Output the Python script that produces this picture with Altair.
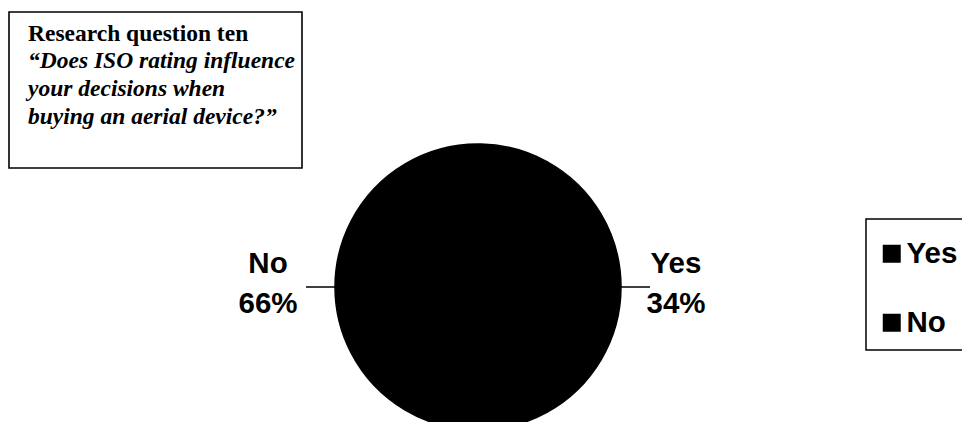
import math
import altair as alt
import pandas as pd

# ---- data ----
categories = ["Yes", "No"]
percent = [34, 66]
slice_order = [1, 2]
title_line = "Research question ten"
question_lines = [
    "\u201cDoes ISO rating influence",
    "your decisions when",
    "buying an aerial device?\u201d",
]

df = pd.DataFrame({"cat": categories, "value": percent, "idx": slice_order})
df["label"] = [f"{c}\n{v}%" for c, v in zip(categories, percent)]

# ---- layout (plot coords = page coords - 8) ----
cx, cy, R = 470, 279, 143
start = math.radians(28.8)
theta_scale = alt.Scale(range=[start, start + 2 * math.pi])
color_scale = alt.Scale(domain=categories, range=["#000000", "#000000"])

base = alt.Chart(df)

pie = base.mark_arc(radius=R, stroke="#000000", strokeWidth=1.5).encode(
    theta=alt.Theta("value:Q", stack=True, scale=theta_scale),
    order=alt.Order("idx:Q"),
    color=alt.Color(
        "cat:N",
        scale=color_scale,
        sort=categories,
        legend=alt.Legend(
            title=" ",
            titleFontSize=1,
            titlePadding=7,
            orient="none",
            legendX=858,
            legendY=211,
            symbolType="square",
            symbolSize=324,
            symbolStrokeWidth=0,
            symbolOffset=-1,
            labelFont="Liberation Sans",
            labelFontSize=29.5,
            labelFontWeight="bold",
            labelColor="#000000",
            labelOffset=0,
            padding=12,
            rowPadding=38,
        ),
    ),
    x=alt.value(cx),
    y=alt.value(cy),
)

mid = base.transform_window(
    cum="sum(value)", sort=[alt.SortField("idx")], frame=[None, 0]
).transform_calculate(mid="datum.cum - datum.value / 2")

leaders = mid.mark_arc(
    radius=R, radius2=172, filled=False, stroke="#000000", strokeWidth=1.5
).encode(
    theta=alt.Theta("mid:Q", stack=False, scale=theta_scale),
    theta2="mid:Q",
    x=alt.value(cx),
    y=alt.value(cy),
)

labels = mid.mark_text(
    radius=204,
    dx=-6,
    dy=-23,
    font="Liberation Sans",
    fontSize=29.5,
    fontWeight="bold",
    lineBreak="\n",
    lineHeight=40,
    align="center",
    baseline="middle",
    color="#000000",
).encode(
    theta=alt.Theta("mid:Q", stack=False, scale=theta_scale),
    text="label:N",
    x=alt.value(cx),
    y=alt.value(cy),
)

one = alt.Data(values=[{"t": "\n".join(question_lines)}])

box = alt.Chart(one).mark_rect(
    filled=False, stroke="#000000", strokeWidth=1.6
).encode(x=alt.value(1), x2=alt.value(294), y=alt.value(4), y2=alt.value(160))

title_txt = alt.Chart(one).mark_text(
    align="left", baseline="alphabetic", font="Liberation Serif",
    fontSize=23.5, fontWeight="bold", color="#000000",
).encode(x=alt.value(20), y=alt.value(33), text=alt.value(title_line))

question_txt = alt.Chart(one).mark_text(
    align="left", baseline="alphabetic", font="Liberation Serif",
    fontSize=23.5, fontStyle="italic", fontWeight="bold", color="#000000",
    lineBreak="\n", lineHeight=28,
).encode(x=alt.value(20), y=alt.value(60), text="t:N")

chart = alt.layer(box, title_txt, question_txt, leaders, pie, labels).properties(
    width=954,
    height=414,
    padding=0,
    autosize=alt.AutoSizeParams(type="none"),
    background="white",
).configure_view(stroke=None).configure_legend(
    strokeColor="#000000", strokeWidth=1.5
)

chart.save("out.html", embed_options={"renderer": "svg", "actions": False})
